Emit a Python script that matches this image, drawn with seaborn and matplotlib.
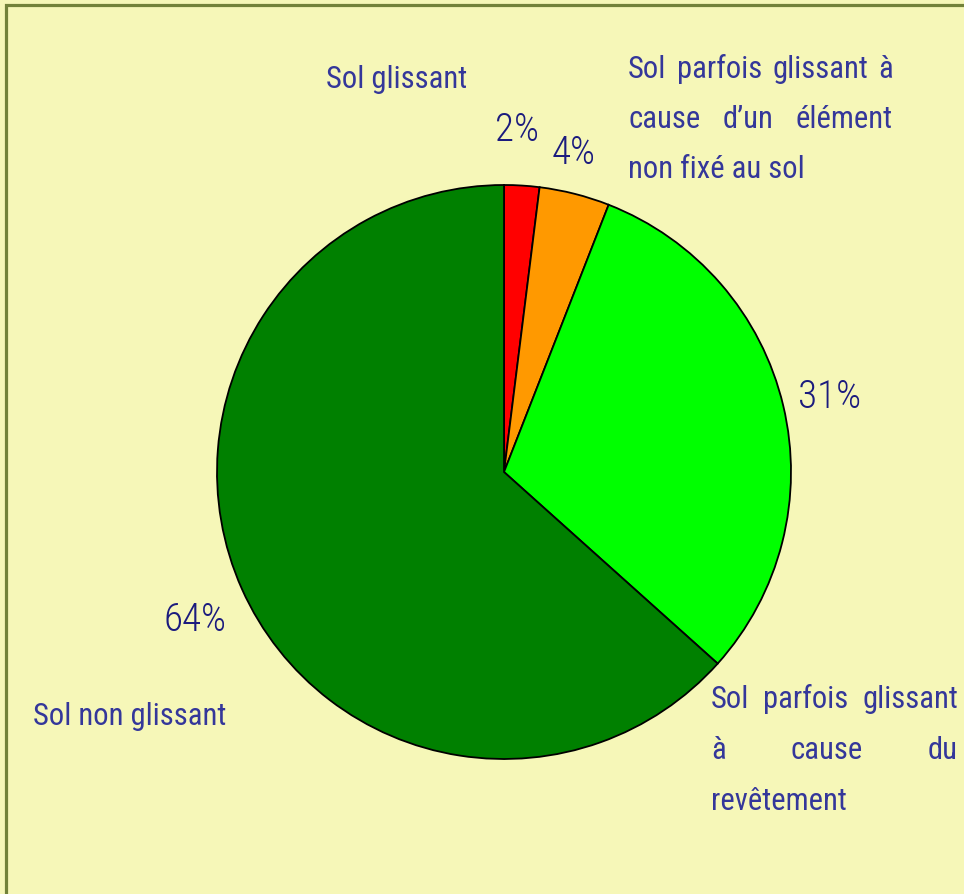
import matplotlib
matplotlib.use("Agg")
import matplotlib.pyplot as plt
import seaborn as sns
from matplotlib import font_manager as fm
from matplotlib.patches import Rectangle

# ---------------- data ----------------
categories = [
    "Sol glissant",
    "Sol parfois glissant à cause d’un élément non fixé au sol",
    "Sol parfois glissant à cause du revêtement",
    "Sol non glissant",
]
values = [2, 4, 31, 64]
pct_labels = ["2%", "4%", "31%", "64%"]
slice_colors = ["#FF0000", "#FF9900", "#00FF00", "#008000"]
label_lines = [
    ["Sol glissant"],
    ["Sol parfois glissant à", "cause d’un élément", "non fixé au sol"],
    ["Sol parfois glissant", "à cause du", "revêtement"],
    ["Sol non glissant"],
]

# ---------------- layout (pixels, top-left origin) ----------------
W, H = 964, 895
CX, CY, R = 504, 473, 287
# (left x, right x for justification, first baseline, line spacing)
label_pos = [(326, None, 88, 50), (628, 893, 78, 50), (711, 958, 708, 51), (33, None, 725, 50)]
pct_pos = [(495, 141), (552, 164), (798, 408), (164, 631)]

BG = "#F6F7B8"
LABEL_COLOR = "#34379A"
PCT_COLOR = "#1B1B7E"

sns.set_theme(style="white")
avail = {f.name for f in fm.fontManager.ttflist}
font = "DejaVu Sans"
for cand in ["Liberation Sans Narrow", "Roboto Condensed", "Open Sans Condensed", "DejaVu Sans"]:
    if cand in avail:
        font = cand
        break
plt.rcParams["font.family"] = [font, "DejaVu Sans"]

fig = plt.figure(figsize=(W / 100, H / 100), dpi=100)
fig.patch.set_facecolor(BG)

ax = fig.add_axes([0, 0, 1, 1])
ax.set_facecolor(BG)
ax.pie(values, colors=slice_colors, startangle=90, counterclock=False,
       wedgeprops=dict(edgecolor="black", linewidth=1.3))
ax.set_aspect("auto")
ax.set_xlim(-CX / R, (W - CX) / R)
ax.set_ylim(-(H - CY) / R, CY / R)
ax.axis("off")

# border
fig.patches.append(Rectangle((6 / W, -0.02), 1.05, 1 - 6 / H + 0.02, transform=fig.transFigure,
                             fill=False, edgecolor="#72823A", linewidth=2.3))

renderer = fig.canvas.get_renderer()


def fx(x):
    return x / W


def fy(y):
    return 1 - y / H


def fit_size(text, target_px, **kw):
    t = fig.text(0, 0, text, fontsize=10, **kw)
    w = t.get_window_extent(renderer).width
    t.remove()
    return 10 * target_px / w


label_size = fit_size("Sol non glissant", 193)
pct_size = fit_size("64%", 63, fontweight="light")


def put_line(words_line, x0, x1, ybase, justify):
    words = words_line.split(" ")
    if not justify or x1 is None or len(words) == 1:
        fig.text(fx(x0), fy(ybase), words_line, fontsize=label_size, color=LABEL_COLOR,
                 ha="left", va="baseline")
        return
    ts = [fig.text(0, 0, w, fontsize=label_size, color=LABEL_COLOR, ha="left", va="baseline")
          for w in words]
    widths = [t.get_window_extent(renderer).width for t in ts]
    gap = (x1 - x0 - sum(widths)) / (len(words) - 1)
    x = x0
    for t, w in zip(ts, widths):
        t.set_position((fx(x), fy(ybase)))
        x += w + gap


for lines, (x0, x1, yb, dy) in zip(label_lines, label_pos):
    for i, line in enumerate(lines):
        put_line(line, x0, x1, yb + i * dy, justify=(i < len(lines) - 1))

for lab, (x, y) in zip(pct_labels, pct_pos):
    fig.text(fx(x), fy(y), lab, fontsize=pct_size, color=PCT_COLOR, fontweight="light",
             ha="left", va="baseline")

fig.savefig("out.png", dpi=100, facecolor=BG)
